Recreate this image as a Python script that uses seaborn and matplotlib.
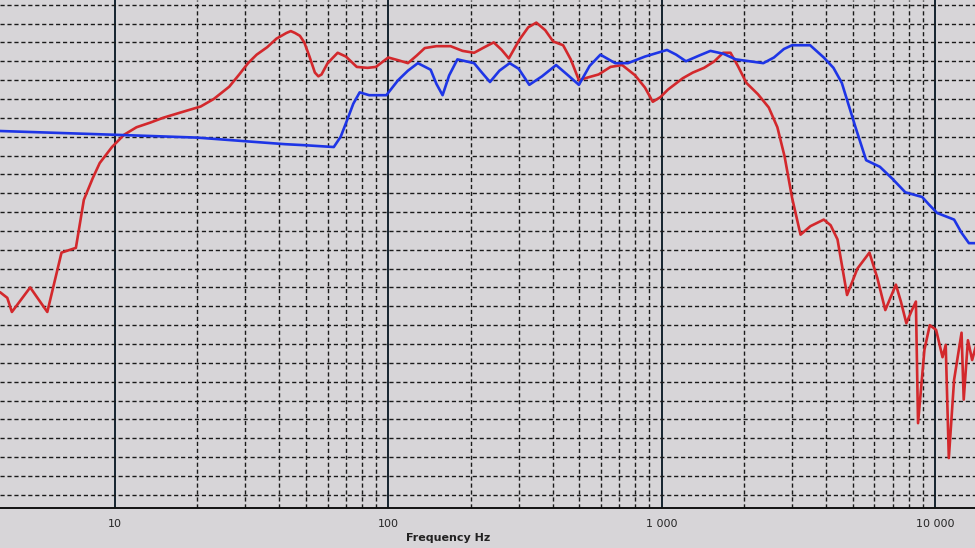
import numpy as np
import pandas as pd
import matplotlib
matplotlib.use("Agg")
import matplotlib.pyplot as plt
from matplotlib.ticker import FixedLocator, FixedFormatter, MultipleLocator, NullFormatter
import seaborn as sns

red_freq = [3.8, 4.04, 4.2, 4.9, 5.66, 6.38, 7.2, 7.7, 8.3, 8.8, 9.76, 10.8, 12, 13.5, 15, 17.1, 20.6,
            23, 26.2, 28.5, 30.7, 33, 36.1, 39, 42.4, 44, 45.6, 47.5, 49.3, 51.5, 53.9, 55.5, 57.0,
            60, 65.3, 70, 76.7, 84, 90.1, 100,
            109, 118, 127, 136, 150, 169, 187, 206, 225, 243, 260, 276, 302, 325, 348, 375, 401,
            436, 465, 498, 540, 588, 650, 717, 800, 869, 928,
            990, 1055, 1195, 1300, 1429, 1560, 1678, 1786, 1900, 2042, 2250, 2464, 2650, 2816,
            3000, 3221, 3500, 3917, 4150, 4397, 4766,
            5200, 5754, 6150, 6577, 7191, 7500, 7853, 8200, 8510, 8665, 9145, 9565, 10090,
            10650, 10940, 11230, 11740, 12500, 12730, 13190, 13670, 14290]
red_db = [71.5, 70.9, 69.4, 72.0, 69.4, 75.7, 76.2, 81.3, 83.6, 85.2, 86.9, 88.2, 89.0, 89.5, 90.0,
          90.5, 91.2,
          92.0, 93.3, 94.6, 95.8, 96.7, 97.5, 98.4, 99.0, 99.2, 99.0, 98.7, 98.0, 96.5, 94.8, 94.4, 94.6,
          95.8, 96.9, 96.5, 95.4, 95.3, 95.4, 96.4,
          96.1, 95.8, 96.6, 97.4, 97.6, 97.6, 97.1, 96.9, 97.5, 98.0, 97.2, 96.3, 98.3, 99.6, 100.1,
          99.3, 98.1,
          97.7, 96.2, 94.0, 94.3, 94.6, 95.4, 95.6, 94.5, 93.2, 91.7,
          92.2, 93.0, 94.2, 94.8, 95.3, 96.0, 96.9, 96.9, 95.5, 93.7, 92.5, 91.1, 89.0, 85.9,
          81.5, 77.6, 78.5, 79.2, 78.6, 77.1, 71.2,
          74.0, 75.7, 73.0, 69.6, 72.3, 70.5, 68.2, 69.5, 70.5, 57.6, 65.4, 68.0, 67.5,
          64.6, 65.9, 53.9, 62.2, 67.2, 60.1, 66.4, 64.3, 66.4]

blue_freq = [3.8, 10, 20, 30.5, 42, 49, 63.2, 67, 70.8, 74.5, 78.6, 85.1, 98.4, 108.7, 118, 128.3,
             142.9, 150, 158, 167, 179, 206, 220, 235.5, 255, 278, 300, 328, 365, 411, 455, 498,
             545, 597, 676, 753, 869, 1046, 1130,
             1227, 1370, 1508, 1680, 1866, 2354, 2575, 2800, 2999, 3491, 3917, 4250, 4560, 5117, 5597,
             6285, 7000, 7782, 8972, 9500, 10180, 11740, 12500, 13300, 14290]
blue_db = [88.6, 88.2, 87.9, 87.5, 87.2, 87.1, 86.9, 88.0, 89.8, 91.5, 92.7, 92.4, 92.4, 94.0, 95.0,
           95.8, 95.1, 93.6, 92.4, 94.5, 96.2, 95.8, 94.8, 93.8, 95.0, 95.8, 95.2, 93.5, 94.4, 95.6,
           94.5, 93.5,
           95.5, 96.7, 95.8, 95.8, 96.5, 97.2, 96.7,
           96.0, 96.6, 97.1, 96.8, 96.2, 95.8, 96.4, 97.3, 97.7, 97.7, 96.4, 95.3, 93.7, 89.0, 85.5,
           84.8, 83.5, 82.1, 81.6, 80.8, 79.9, 79.2, 77.8, 76.7, 76.7]

decade_ticks = [10, 100, 1000, 10000]
decade_labels = ["10", "100", "1 000", "10 000"]
minor_ticks = [m * d for d in (10, 100, 1000) for m in range(2, 10)]

df = pd.concat([
    pd.DataFrame({"freq": red_freq, "db": red_db, "curve": "red"}),
    pd.DataFrame({"freq": blue_freq, "db": blue_db, "curve": "blue"}),
])

sns.set_style("white")
bg = "#d7d5d8"
fig = plt.figure(figsize=(9.75, 5.48), dpi=100, facecolor=bg)
ax = fig.add_axes([0, 40 / 548, 1, 508 / 548])
ax.set_facecolor(bg)

sns.lineplot(data=df, x="freq", y="db", hue="curve", sort=False, estimator=None,
             palette={"red": "#d3282c", "blue": "#1e35e6"}, linewidth=1.9,
             legend=False, ax=ax, zorder=3)

ax.set_xscale("log")
ax.set_xlim(3.8, 14000)
ax.set_ylim(48.6, 102.5)

ax.xaxis.set_major_locator(FixedLocator(decade_ticks))
ax.xaxis.set_major_formatter(FixedFormatter(decade_labels))
ax.xaxis.set_minor_locator(FixedLocator(minor_ticks))
ax.xaxis.set_minor_formatter(NullFormatter())
ax.yaxis.set_major_locator(MultipleLocator(2))
ax.set_yticklabels([])
ax.tick_params(axis="y", length=0)
ax.tick_params(axis="x", which="major", length=4, labelsize=8, color="#111", pad=4)
ax.tick_params(axis="x", which="minor", length=3, color="#111")

ax.grid(axis="y", which="major", color="#1a1a1a", linestyle=(0, (3, 2)), linewidth=1)
ax.grid(axis="x", which="major", color="#14232e", linestyle="-", linewidth=1.4)
ax.grid(axis="x", which="minor", color="#1a1a1a", linestyle=(0, (3, 2)), linewidth=1)

for s in ("top", "left", "right"):
    ax.spines[s].set_visible(False)
ax.spines["bottom"].set_color("#111")
ax.spines["bottom"].set_linewidth(1.4)

ax.set_xlabel("Frequency Hz", fontsize=8, fontweight="bold", color="#222", labelpad=5)
ax.xaxis.set_label_coords(448 / 975, -0.05)
ax.set_ylabel("")

fig.savefig("out.png", dpi=100, facecolor=bg)
